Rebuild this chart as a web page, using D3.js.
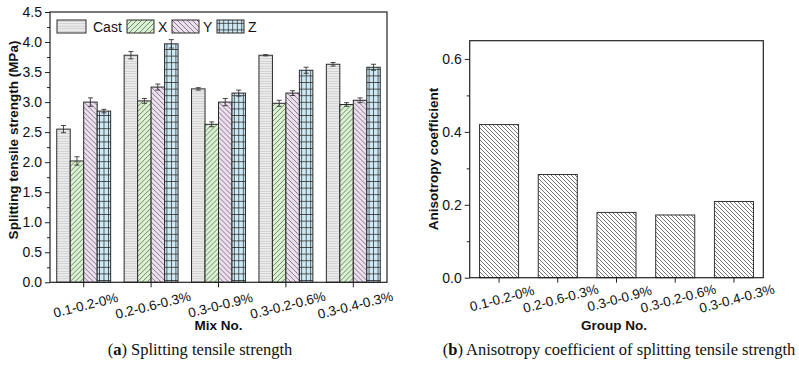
<!DOCTYPE html>
<html>
<head>
<meta charset="utf-8">
<script src="https://cdn.jsdelivr.net/npm/d3@7"></script>
<style>
  body { margin: 0; background: #fff; }
  svg { display: block; }
  text { font-family: "Liberation Sans", Arial, sans-serif; fill: #111; }
  .caption { font-family: "Liberation Serif", "Times New Roman", serif; font-size: 16.5px; }
</style>
</head>
<body>
<div id="container"></div>
<script>
// data
const mixes = ["0.1-0.2-0%", "0.2-0.6-0.3%", "0.3-0-0.9%", "0.3-0.2-0.6%", "0.3-0.4-0.3%"];
const directions = ["Cast", "X", "Y", "Z"];
const castVals = [2.55, 3.78, 3.22, 3.78, 3.63];
const xVals = [2.02, 3.02, 2.63, 2.98, 2.96];
const yVals = [3.0, 3.25, 3.0, 3.15, 3.03];
const zVals = [2.85, 3.97, 3.15, 3.53, 3.58];
const castErr = [0.06, 0.06, 0.02, 0.01, 0.03];
const xErr = [0.07, 0.04, 0.04, 0.05, 0.03];
const yErr = [0.07, 0.05, 0.06, 0.04, 0.04];
const zErr = [0.03, 0.07, 0.05, 0.05, 0.05];
const strengthTicks = [0, 0.5, 1, 1.5, 2, 2.5, 3, 3.5, 4, 4.5];
const anisotropy = [0.42, 0.283, 0.179, 0.172, 0.209];
const anisoTicks = [0, 0.2, 0.4, 0.6];

const width = 799, height = 371;
const svg = d3.select("#container").append("svg")
  .attr("width", width).attr("height", height);
svg.append("rect").attr("width", width).attr("height", height).attr("fill", "#fff");

const defs = svg.append("defs");
function hatch(id, w, h, fill, d, stroke, sw) {
  const p = defs.append("pattern").attr("id", id)
    .attr("patternUnits", "userSpaceOnUse").attr("width", w).attr("height", h);
  p.append("rect").attr("width", w).attr("height", h).attr("fill", fill);
  p.append("path").attr("d", d).attr("stroke", stroke).attr("stroke-width", sw).attr("fill", "none");
}
hatch("pCast", 4, 2.5, "#ededed", "M0,1.25 H4", "#b4b4b4", 0.6);
hatch("pX", 5, 5, "#d9f2cf", "M0,5 L5,0 M-1,1 L1,-1 M4,6 L6,4", "#3a3a3a", 0.6);
hatch("pY", 5, 5, "#eddff0", "M0,0 L5,5 M-1,4 L1,6 M4,-1 L6,1", "#3a3a3a", 0.6);
hatch("pZ", 4.5, 6.6, "#cde9f4", "M2.25,0 V6.6 M0,3.3 H4.5", "#2a2a2a", 0.75);
hatch("pAniso", 4, 4, "#fff", "M0,0 L4,4 M-1,3 L1,5 M3,-1 L5,1", "#222", 0.6);
const fills = { Cast: "url(#pCast)", X: "url(#pX)", Y: "url(#pY)", Z: "url(#pZ)" };

const rows = mixes.map((m, i) => ({
  mix: m,
  bars: [
    { dir: "Cast", v: castVals[i], e: castErr[i] },
    { dir: "X", v: xVals[i], e: xErr[i] },
    { dir: "Y", v: yVals[i], e: yErr[i] },
    { dir: "Z", v: zVals[i], e: zErr[i] }
  ]
}));

// ---------- (a) splitting tensile strength ----------
const A = { left: 50, right: 387, top: 12, bottom: 282.3 };
const xA = d3.scaleBand().domain(mixes).range([A.left, A.right]);
const groupW = xA.bandwidth() * 0.8;
const subA = d3.scaleBand().domain(directions).range([0, groupW]);
const yA = d3.scaleLinear().domain([0, 4.5]).range([A.bottom, A.top]);

const gA = svg.append("g");
const groups = gA.selectAll(".grp").data(rows).enter().append("g")
  .attr("transform", (d) => `translate(${xA(d.mix) + (xA.bandwidth() - groupW) / 2},0)`);

groups.selectAll("rect").data((d) => d.bars).enter().append("rect")
  .attr("x", (d) => subA(d.dir))
  .attr("y", (d) => yA(d.v))
  .attr("width", subA.bandwidth())
  .attr("height", (d) => yA(0) - yA(d.v))
  .attr("fill", (d) => fills[d.dir])
  .attr("stroke", "#2a2a2a").attr("stroke-width", 1);

const err = groups.selectAll(".err").data((d) => d.bars).enter().append("g")
  .attr("stroke", "#333").attr("stroke-width", 0.9);
err.append("line")
  .attr("x1", (d) => subA(d.dir) + subA.bandwidth() / 2)
  .attr("x2", (d) => subA(d.dir) + subA.bandwidth() / 2)
  .attr("y1", (d) => yA(d.v + d.e)).attr("y2", (d) => yA(d.v - d.e));
["+", "-"].forEach((s) => {
  err.append("line")
    .attr("x1", (d) => subA(d.dir) + subA.bandwidth() / 2 - 2.5)
    .attr("x2", (d) => subA(d.dir) + subA.bandwidth() / 2 + 2.5)
    .attr("y1", (d) => yA(s === "+" ? d.v + d.e : d.v - d.e))
    .attr("y2", (d) => yA(s === "+" ? d.v + d.e : d.v - d.e));
});

// frame
gA.append("rect").attr("x", A.left).attr("y", A.top)
  .attr("width", A.right - A.left).attr("height", A.bottom - A.top)
  .attr("fill", "none").attr("stroke", "#222").attr("stroke-width", 1.2);

gA.append("g").attr("transform", `translate(${A.left},0)`)
  .call(d3.axisLeft(yA).tickValues(strengthTicks).tickFormat(d3.format(".1f")).tickSize(5).tickSizeOuter(0));
gA.append("g").attr("transform", `translate(${A.left},0)`)
  .call(d3.axisLeft(yA).tickValues(d3.range(0.25, 4.5, 0.5)).tickFormat("").tickSize(3).tickSizeOuter(0));
const axisXA = gA.append("g").attr("transform", `translate(0,${A.bottom})`)
  .call(d3.axisBottom(xA).tickSize(5).tickSizeOuter(0));

gA.append("text")
  .attr("transform", `translate(13,140) rotate(-90)`)
  .attr("text-anchor", "middle").attr("dominant-baseline", "central")
  .attr("font-size", 13.5).attr("font-weight", "bold")
  .text("Splitting tensile strength (MPa)");
gA.append("text").attr("x", (A.left + A.right) / 2).attr("y", 330)
  .attr("text-anchor", "middle").attr("font-size", 13.5).attr("font-weight", "bold")
  .text("Mix No.");

// legend
const legX = [57, 127, 172, 217];
const leg = gA.selectAll(".leg").data(directions).enter().append("g")
  .attr("transform", (d, i) => `translate(${legX[i]},20)`);
leg.append("rect").attr("width", (d, i) => (i === 0 ? 29 : 27)).attr("height", 13)
  .attr("fill", (d) => fills[d]).attr("stroke", "#2a2a2a").attr("stroke-width", 1);
leg.append("text").attr("x", (d, i) => (i === 0 ? 36 : 31)).attr("y", 11.5)
  .attr("font-size", 14).text((d) => d);

// ---------- (b) anisotropy coefficient ----------
const B = { left: 469.7, right: 763.3, top: 40.7, bottom: 277.7 };
const xB = d3.scaleBand().domain(mixes).range([B.left, B.right]);
const barW = xB.bandwidth() * 0.665;
const yB = d3.scaleLinear().domain([0, 0.65]).range([B.bottom, B.top]);
const gB = svg.append("g");

gB.selectAll(".abar").data(anisotropy).enter().append("rect")
  .attr("x", (d, i) => xB(mixes[i]) + (xB.bandwidth() - barW) / 2)
  .attr("y", (d) => yB(d))
  .attr("width", barW)
  .attr("height", (d) => yB(0) - yB(d))
  .attr("fill", "url(#pAniso)").attr("stroke", "#333").attr("stroke-width", 1);

gB.append("rect").attr("x", B.left).attr("y", B.top)
  .attr("width", B.right - B.left).attr("height", B.bottom - B.top)
  .attr("fill", "none").attr("stroke", "#222").attr("stroke-width", 1.2);

gB.append("g").attr("transform", `translate(${B.left},0)`)
  .call(d3.axisLeft(yB).tickValues(anisoTicks).tickFormat(d3.format(".1f")).tickSize(5).tickSizeOuter(0));
gB.append("g").attr("transform", `translate(${B.left},0)`)
  .call(d3.axisLeft(yB).tickValues([0.1, 0.3, 0.5]).tickFormat("").tickSize(3).tickSizeOuter(0));
const axisXB = gB.append("g").attr("transform", `translate(0,${B.bottom})`)
  .call(d3.axisBottom(xB).tickSize(5).tickSizeOuter(0));

gB.append("text")
  .attr("transform", `translate(433,159) rotate(-90)`)
  .attr("text-anchor", "middle").attr("dominant-baseline", "central")
  .attr("font-size", 13.5).attr("font-weight", "bold")
  .text("Anisotropy coefficient");
gB.append("text").attr("x", 614).attr("y", 330)
  .attr("text-anchor", "middle").attr("font-size", 13.5).attr("font-weight", "bold")
  .text("Group No.");

// shared axis styling
svg.selectAll(".domain").remove();
svg.selectAll(".tick line").attr("stroke", "#222").attr("stroke-width", 1);
svg.selectAll(".tick text").attr("font-size", 14).attr("fill", "#111")
  .attr("font-family", '"Liberation Sans", Arial, sans-serif');
[axisXA, axisXB].forEach((ax, k) => {
  ax.selectAll(".tick text")
    .attr("y", 0).attr("dy", null)
    .attr("font-size", 13.5)
    .attr("text-anchor", "middle").attr("dominant-baseline", "central")
    .attr("transform", k === 0 ? "translate(2,23) rotate(-14)" : "translate(3,21) rotate(-15)");
});

// captions
const capA = svg.append("text").attr("class", "caption").attr("x", 200).attr("y", 355).attr("text-anchor", "middle");
capA.append("tspan").text("(");
capA.append("tspan").attr("font-weight", "bold").text("a");
capA.append("tspan").text(") Splitting tensile strength");
const capB = svg.append("text").attr("class", "caption").attr("x", 619).attr("y", 355).attr("text-anchor", "middle");
capB.append("tspan").text("(");
capB.append("tspan").attr("font-weight", "bold").text("b");
capB.append("tspan").text(") Anisotropy coefficient of splitting tensile strength");
</script>
</body>
</html>
